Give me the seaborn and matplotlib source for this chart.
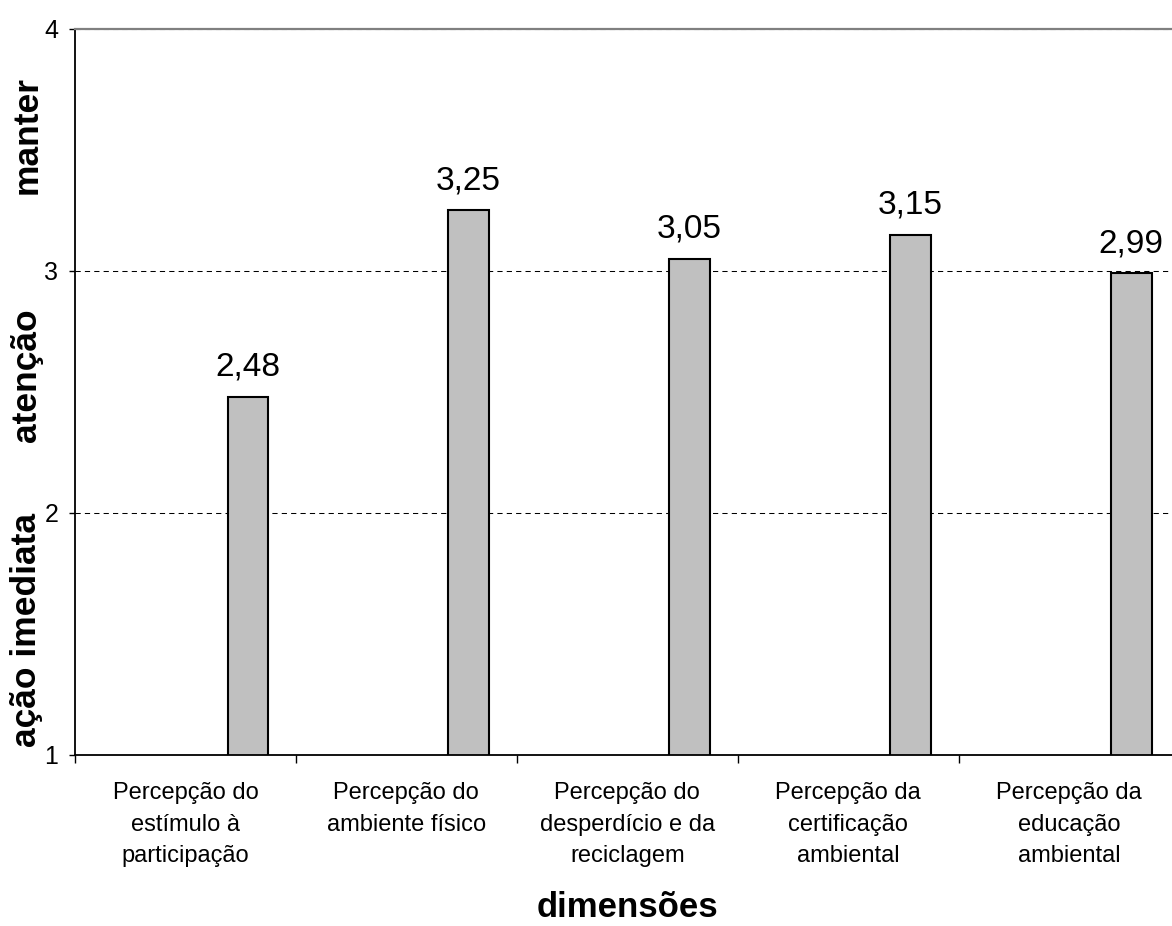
import matplotlib
matplotlib.use("Agg")
import matplotlib.pyplot as plt
import seaborn as sns
import pandas as pd

# Mean score per dimension
categories = [
    "Percepção do\nestímulo à\nparticipação",
    "Percepção do\nambiente físico",
    "Percepção do\ndesperdício e da\nreciclagem",
    "Percepção da\ncertificação\nambiental",
    "Percepção da\neducação\nambiental",
]
values = [2.48, 3.25, 3.05, 3.15, 2.99]
y_ticks = [1, 2, 3, 4]
zone_labels = ["ação imediata", "atenção", "manter"]

sns.set_theme(style="ticks")
plt.rcParams["font.family"] = ["Liberation Sans", "DejaVu Sans"]
plt.rcParams.update({
    "text.color": "black",
    "axes.labelcolor": "black",
    "xtick.color": "black",
    "ytick.color": "black",
})

fig = plt.figure(figsize=(11.72, 9.26), dpi=100)
ax = fig.add_axes([0.064, 0.1852, 0.9424, 0.7835])

df = pd.DataFrame({"dimensao": categories, "media": values})
sns.barplot(data=df, x="dimensao", y="media", color="#C0C0C0",
            saturation=1, edgecolor="black", linewidth=1.5,
            width=0.183, ax=ax, zorder=2)

# each bar sits in the right part of its category slot
offset = 0.782
ax.set_xlim(-offset, len(categories) - offset)
ax.set_ylim(1, 4)

# value labels with decimal comma
ax.bar_label(ax.containers[0],
             labels=[f"{v:.2f}".replace(".", ",") for v in values],
             padding=10, fontsize=24, color="black")

# slot boundaries as major ticks, category names on minor ticks
ax.set_xticks([i - offset for i in range(len(categories) + 1)])
ax.set_xticklabels([])
ax.set_xticks([i - offset + 0.5 for i in range(len(categories))], minor=True)
ax.set_xticklabels(categories, minor=True, fontsize=17, linespacing=1.55)
ax.tick_params(axis="x", which="major", length=5.5, width=1, color="black",
               direction="out")
ax.tick_params(axis="x", which="minor", length=0, pad=20)

ax.set_yticks(y_ticks)
ax.set_yticklabels([str(t) for t in y_ticks], fontsize=18)
ax.tick_params(axis="y", length=4, width=1, color="black", direction="out",
               pad=8)

ax.set_xlabel("dimensões", fontsize=25, fontweight="bold", labelpad=17)
ax.set_ylabel("")

# dashed reference lines
ax.set_axisbelow(True)
ax.yaxis.grid(True, color="black", linestyle=(0, (5, 4)), linewidth=0.75)

for side in ("left", "bottom"):
    ax.spines[side].set_color("black")
    ax.spines[side].set_linewidth(1.3)
ax.spines["top"].set_color("#808080")
ax.spines["top"].set_linewidth(1.6)
ax.spines["right"].set_visible(False)

# zone names along the vertical axis
H = 926.0
zone_y = [630, 375, 134.5]
for label, ypx in zip(zone_labels, zone_y):
    fig.text(27 / 1172, 1 - ypx / H, label, rotation=90, ha="center",
             va="center", fontsize=25.5, fontweight="bold")

fig.savefig("out.png", dpi=100, facecolor="white")
